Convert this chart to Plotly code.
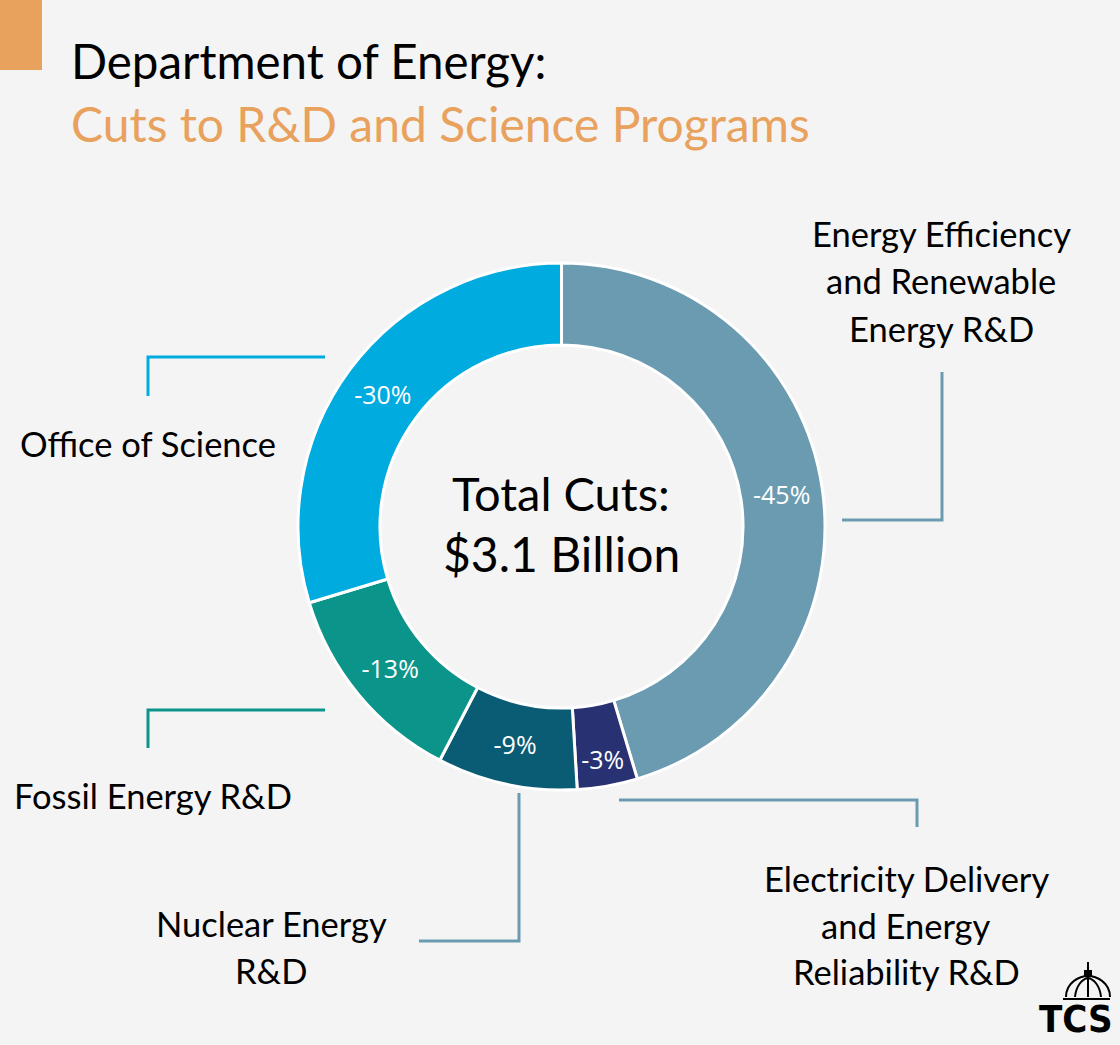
import plotly.graph_objects as go

W, H = 1120, 1045

# ---- data ----
programs = [
    "Energy Efficiency and Renewable Energy R&D",
    "Electricity Delivery and Energy Reliability R&D",
    "Nuclear Energy R&D",
    "Fossil Energy R&D",
    "Office of Science",
]
cut_share = [45.4, 3.7, 8.6, 12.7, 29.7]      # share of total cuts (as drawn)
cut_labels = ["-45%", "-3%", "-9%", "-13%", "-30%"]
slice_colors = ["#6a9bb1", "#283272", "#0a5c75", "#0b948a", "#00abdf"]
total_text = ["Total Cuts:", "$3.1 Billion"]

title = "Department of Energy:"
subtitle = "Cuts to R&D and Science Programs"

BG = "#f4f4f4"
ORANGE = "#e8a25e"
TITLE_FONT = "Lato"
LABEL_FONT = "Lato"


def px(x):
    return x / W


def py(y):
    return 1 - y / H


fig = go.Figure()
fig.add_trace(go.Pie(
    labels=programs,
    values=cut_share,
    text=cut_labels,
    textinfo="text",
    textposition="inside",
    insidetextorientation="horizontal",
    textfont=dict(family="Open Sans", size=25, color="white"),
    marker=dict(colors=slice_colors, line=dict(color="white", width=3)),
    hole=0.689,
    sort=False,
    direction="clockwise",
    rotation=0,
    showlegend=False,
    hoverinfo="label+text",
    domain=dict(x=[px(298), px(825)], y=[py(790), py(263)]),
))

annotations = []
shapes = []


def add_text(txt, x, baseline, size, color="black", family=LABEL_FONT, anchor="center"):
    annotations.append(dict(
        text=txt, x=px(x), y=py(baseline - 0.37 * size), xref="paper", yref="paper",
        xanchor=anchor, yanchor="middle", showarrow=False,
        font=dict(family=family, size=size, color=color),
    ))


# title block
shapes.append(dict(type="rect", xref="paper", yref="paper",
                   x0=px(0), x1=px(42), y0=py(70), y1=py(0),
                   fillcolor=ORANGE, line=dict(width=0)))
add_text(title, 69, 78, 47.5, family=TITLE_FONT, anchor="left")
add_text(subtitle, 69, 141, 48, color=ORANGE, family=TITLE_FONT, anchor="left")

# center text
add_text(total_text[0], 561, 510, 47)
add_text(total_text[1], 561, 571, 48)

# category labels
LS = 34.5
add_text("Energy Efficiency", 941, 246, LS)
add_text("and Renewable", 941, 293, LS)
add_text("Energy R&D", 941, 341, LS)

add_text("Office of Science", 148, 456, LS)
add_text("Fossil Energy R&D", 153, 808, LS)

add_text("Nuclear Energy", 271, 936, LS)
add_text("R&D", 271, 983, LS)

add_text("Electricity Delivery", 906, 891, LS)
add_text("and Energy", 906, 938, LS)
add_text("Reliability R&D", 906, 984, LS)


def leader(points, color):
    path = "M " + " L ".join(f"{px(x)},{py(y)}" for x, y in points)
    shapes.append(dict(type="path", xref="paper", yref="paper", path=path,
                       line=dict(color=color, width=3)))


leader([(148, 396), (148, 357), (325, 357)], slice_colors[4])
leader([(148, 748), (148, 710), (325, 710)], slice_colors[3])
leader([(942, 372), (942, 520), (842, 520)], slice_colors[0])
leader([(619, 800), (917, 800), (917, 827)], slice_colors[0])
leader([(519, 793), (519, 941), (419, 941)], slice_colors[0])

# TCS logo
annotations.append(dict(text="<b>TCS</b>", x=px(1076), y=py(1019), xref="paper", yref="paper",
                        xanchor="center", yanchor="middle", showarrow=False,
                        font=dict(family="DejaVu Sans Condensed", size=38, color="black")))
dome = (f"M {px(1063)},{py(999)} L {px(1110)},{py(999)} "
        f"M {px(1066)},{py(997)} C {px(1066)},{py(982)} {px(1080)},{py(976)} {px(1088)},{py(976)} "
        f"C {px(1096)},{py(976)} {px(1110)},{py(982)} {px(1110)},{py(997)} "
        f"M {px(1075)},{py(997)} C {px(1076)},{py(986)} {px(1082)},{py(979)} {px(1088)},{py(978)} "
        f"M {px(1101)},{py(997)} C {px(1100)},{py(986)} {px(1094)},{py(979)} {px(1088)},{py(978)} "
        f"M {px(1088)},{py(997)} L {px(1088)},{py(976)} "
        f"M {px(1088)},{py(976)} L {px(1088)},{py(962)}")
shapes.append(dict(type="path", xref="paper", yref="paper", path=dome,
                   line=dict(color="black", width=2)))
shapes.append(dict(type="rect", xref="paper", yref="paper",
                   x0=px(1084), x1=px(1092), y0=py(977), y1=py(970),
                   fillcolor="black", line=dict(width=0)))

fig.update_layout(
    width=W, height=H,
    margin=dict(l=0, r=0, t=0, b=0),
    paper_bgcolor=BG, plot_bgcolor=BG,
    annotations=annotations,
    shapes=shapes,
)

fig.write_html(
    "out.html",
    config={"displayModeBar": False},
    post_script="document.body.style.margin='0';document.body.style.overflow='hidden';"
                "document.body.style.background='" + BG + "';",
)
